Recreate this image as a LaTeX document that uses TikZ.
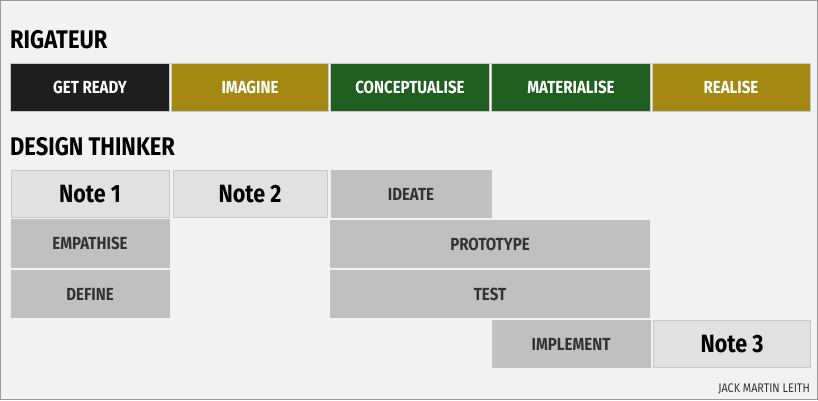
\documentclass[tikz,border=0pt]{standalone}
\usepackage{fontspec}
\setmainfont{Fira Sans}[FakeStretch=0.86]
\definecolor{bg}{HTML}{F2F2F2}
\definecolor{frame}{HTML}{9A9A9A}
\definecolor{darkbox}{HTML}{1E1E1E}
\definecolor{olive}{HTML}{A38812}
\definecolor{forest}{HTML}{215F21}
\definecolor{notefill}{HTML}{E1E1E1}
\definecolor{noteline}{HTML}{C8C8C8}
\definecolor{greyfill}{HTML}{C0C0C0}
\definecolor{greytext}{HTML}{333333}
\begin{document}
\begin{tikzpicture}[x=1pt,y=-1pt,
  phase/.style={draw=noteline,line width=0.8pt,text=white,font=\fontsize{17.5}{20}\selectfont\bfseries},
  notebox/.style={draw=noteline,line width=1pt,fill=notefill,text=black,font=\fontsize{25}{28}\selectfont\bfseries},
  stagebox/.style={draw=none,fill=greyfill,text=greytext,font=\fontsize{17.5}{20}\selectfont\bfseries},
  heading/.style={anchor=base west,text=black,inner sep=0pt,font=\fontsize{25.5}{28}\selectfont\bfseries}]
\fill[bg] (0,0) rectangle (818,400);
\draw[frame,line width=1pt] (0.5,0.5) rectangle (817.5,399.5);
\useasboundingbox (0,0) rectangle (818,400);
% headings
\node[heading] (t1) at (10,48) {RIGATEUR};
\node[heading] (t2) at (10,155) {DESIGN THINKER};
% Rigateur phases
\node[phase,fill=darkbox,minimum width=159pt,minimum height=48pt] (p1) at (90,87) {GET READY};
\node[phase,fill=olive,minimum width=157pt,minimum height=48pt] (p2) at (250,87) {IMAGINE};
\node[phase,fill=forest,minimum width=159pt,minimum height=48pt] (p3) at (410,87) {CONCEPTUALISE};
\node[phase,fill=forest,minimum width=159pt,minimum height=48pt] (p4) at (571,87) {MATERIALISE};
\node[phase,fill=olive,minimum width=158pt,minimum height=48pt] (p5) at (731,87) {REALISE};
% Design thinker
\node[notebox,minimum width=158pt,minimum height=47pt] (n1) at (90,194) {Note 1};
\node[notebox,minimum width=154pt,minimum height=47pt] (n2) at (250,194) {Note 2};
\node[stagebox,minimum width=161pt,minimum height=48pt] (ideate) at (411,194) {IDEATE};
\node[stagebox,minimum width=159pt,minimum height=49pt] (emp) at (90,243.5) {EMPATHISE};
\node[stagebox,minimum width=320pt,minimum height=48pt] (proto) at (490,244) {PROTOTYPE};
\node[stagebox,minimum width=159pt,minimum height=48pt] (def) at (90,294) {DEFINE};
\node[stagebox,minimum width=320pt,minimum height=48pt] (test) at (490,294) {TEST};
\node[stagebox,minimum width=159pt,minimum height=48pt] (impl) at (571,344) {IMPLEMENT};
\node[notebox,minimum width=157pt,minimum height=47pt] (n3) at (732,344) {Note 3};
% credit
\node[anchor=base east,inner sep=0pt,text=greytext,font=\fontsize{12.5}{14}\selectfont] (credit) at (810,392) {JACK MARTIN LEITH};
\end{tikzpicture}
\end{document}
